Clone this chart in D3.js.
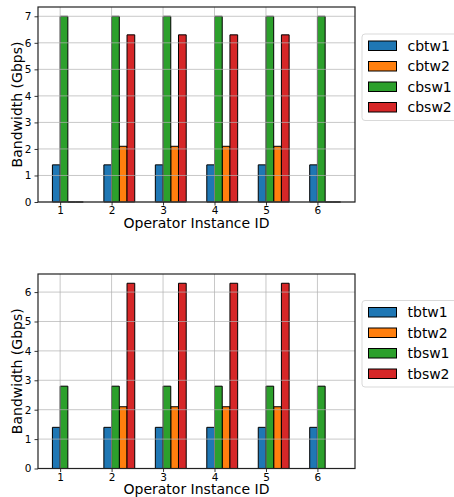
<!DOCTYPE html>
<html>
<head>
<meta charset="utf-8">
<script src="https://cdn.jsdelivr.net/npm/d3@7"></script>
<style>
  html, body { margin: 0; padding: 0; background: #fff; }
  svg { display: block; font-family: "DejaVu Sans", sans-serif; }
</style>
</head>
<body>
<svg id="chart" width="454" height="497"></svg>
<script>
// ---- data ----
const categories = [1, 2, 3, 4, 5, 6];
const topSeriesNames = ["cbtw1", "cbtw2", "cbsw1", "cbsw2"];
const cbtw1 = [1.4, 1.4, 1.4, 1.4, 1.4, 1.4];
const cbtw2 = [0, 2.1, 2.1, 2.1, 2.1, 0];
const cbsw1 = [7.0, 7.0, 7.0, 7.0, 7.0, 7.0];
const cbsw2 = [0, 6.3, 6.3, 6.3, 6.3, 0];
const bottomSeriesNames = ["tbtw1", "tbtw2", "tbsw1", "tbsw2"];
const tbtw1 = [1.4, 1.4, 1.4, 1.4, 1.4, 1.4];
const tbtw2 = [0, 2.1, 2.1, 2.1, 2.1, 0];
const tbsw1 = [2.8, 2.8, 2.8, 2.8, 2.8, 2.8];
const tbsw2 = [0, 6.3, 6.3, 6.3, 6.3, 0];
const topYTicks = [0, 1, 2, 3, 4, 5, 6, 7];
const bottomYTicks = [0, 1, 2, 3, 4, 5, 6];
const colors = ["#1f77b4", "#ff7f0e", "#2ca02c", "#d62728"];
const xLabel = "Operator Instance ID";
const yLabel = "Bandwidth (Gbps)";

// ---- layout ----
const svg = d3.select("#chart");
const barW = 0.15;
const slot = [-1, 1, 0, 2]; // left edge offset (in bar widths) for each series
const xDomain = [0.57, 6.73];

function panel(names, series, yTicks, yMax, top, bottom, legendTop) {
  const left = 38, right = 355;
  const x = d3.scaleLinear().domain(xDomain).range([left, right]);
  const y = d3.scaleLinear().domain([0, yMax]).range([bottom, top]);
  const g = svg.append("g");

  // bars
  series.forEach((vals, si) => {
    g.append("g").selectAll("path").data(vals).join("path")
      .attr("d", (v, i) => {
        const x0 = x(categories[i] + slot[si] * barW);
        const x1 = x(categories[i] + (slot[si] + 1) * barW);
        const y0 = y(0), y1 = y(v);
        return `M${x0},${y0}V${y1}H${x1}V${y0}Z`;
      })
      .attr("fill", colors[si])
      .attr("stroke", "#000")
      .attr("stroke-width", 1);
  });

  // grid (drawn above bars)
  const grid = g.append("g").attr("stroke", "#b0b0b0").attr("stroke-opacity", 0.7).attr("stroke-width", 1);
  grid.selectAll("line.h").data(yTicks).join("line")
    .attr("x1", left).attr("x2", right)
    .attr("y1", d => y(d)).attr("y2", d => y(d));
  grid.selectAll("line.v").data(categories).join("line")
    .attr("y1", top).attr("y2", bottom)
    .attr("x1", d => x(d)).attr("x2", d => x(d));

  // axes
  const xAxis = d3.axisBottom(x).tickValues(categories).tickSize(3.5).tickPadding(1.5).tickFormat(d3.format("d"));
  const yAxis = d3.axisLeft(y).tickValues(yTicks).tickSize(3.5).tickPadding(3).tickFormat(d3.format("d"));
  const gx = g.append("g").attr("transform", `translate(0,${bottom})`).call(xAxis);
  const gy = g.append("g").attr("transform", `translate(${left},0)`).call(yAxis);
  [gx, gy].forEach(a => {
    a.select(".domain").remove();
    a.selectAll("text").attr("font-size", 10.5).attr("font-family", "DejaVu Sans").attr("fill", "#000");
    a.selectAll("line").attr("stroke", "#000").attr("stroke-width", 0.8);
  });

  // frame
  g.append("rect").attr("x", left).attr("y", top).attr("width", right - left).attr("height", bottom - top)
    .attr("fill", "none").attr("stroke", "#222").attr("stroke-width", 1.2);

  // labels
  g.append("text").attr("x", (left + right) / 2).attr("y", bottom + 25.5)
    .attr("text-anchor", "middle").attr("font-size", 14).text(xLabel);
  g.append("text").attr("transform", `translate(${22},${(top + bottom) / 2}) rotate(-90)`)
    .attr("text-anchor", "middle").attr("font-size", 14).text(yLabel);

  // legend
  const lg = g.append("g").attr("transform", `translate(362,${legendTop})`);
  lg.append("rect").attr("x", 0).attr("y", 0).attr("width", 100).attr("height", 86.5)
    .attr("rx", 3).attr("fill", "#fff").attr("fill-opacity", 0.8).attr("stroke", "#d9d9d9").attr("stroke-width", 1);
  names.forEach((n, i) => {
    const cy = 11.5 + i * 20.5;
    lg.append("rect").attr("x", 6.5).attr("y", cy - 4.5).attr("width", 28).attr("height", 9.5)
      .attr("fill", colors[i]).attr("stroke", "#000").attr("stroke-width", 1);
    lg.append("text").attr("x", 45.5).attr("y", cy).attr("dy", "0.36em")
      .attr("font-size", 14).text(n);
  });
}

panel(topSeriesNames, [cbtw1, cbtw2, cbsw1, cbsw2], topYTicks, 7.35, 7, 202, 34);
panel(bottomSeriesNames, [tbtw1, tbtw2, tbsw1, tbsw2], bottomYTicks, 6.615, 274, 468.5, 300.5);
</script>
</body>
</html>
